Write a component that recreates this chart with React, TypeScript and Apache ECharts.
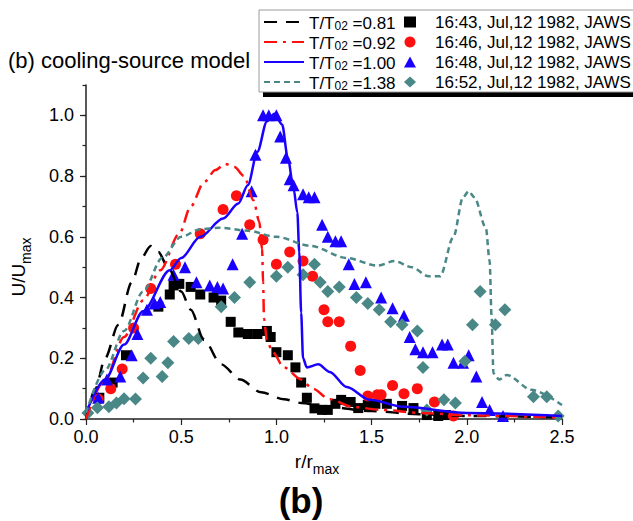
import React, { useEffect, useRef } from "react";
import * as echarts from "echarts";

const FONT = "'Liberation Sans', Arial, sans-serif";

// Model curves (r/rmax, U/Umax)
const lineNames = ["T/T02 =0.81", "T/T02 =0.92", "T/T02 =1.00", "T/T02 =1.38"];
const curve081 = [[0,0],[0.05,0.1],[0.1,0.2],[0.17,0.31],[0.24,0.45],[0.29,0.53],[0.34,0.57],[0.38,0.55],[0.43,0.5],[0.5,0.42],[0.55,0.36],[0.62,0.26],[0.71,0.18],[0.81,0.13],[0.92,0.088],[1.04,0.065],[1.13,0.053],[1.27,0.04],[1.5,0.026],[1.75,0.016],[2.0,0.01],[2.5,0.005]];
const curve092 = [[0,0],[0.1,0.13],[0.2,0.27],[0.3,0.39],[0.39,0.49],[0.49,0.61],[0.55,0.7],[0.62,0.78],[0.68,0.82],[0.73,0.84],[0.78,0.83],[0.83,0.8],[0.88,0.72],[0.91,0.65],[0.925,0.56],[0.93,0.45],[0.935,0.33],[0.95,0.26],[0.98,0.22],[1.04,0.17],[1.13,0.13],[1.19,0.1],[1.28,0.065],[1.4,0.04],[1.55,0.03],[1.76,0.02],[2.0,0.012],[2.5,0.005]];
const curve100 = [[0,0.02],[0.1,0.13],[0.2,0.245],[0.3,0.355],[0.44,0.49],[0.5,0.53],[0.6,0.6],[0.72,0.66],[0.8,0.71],[0.85,0.77],[0.9,0.88],[0.95,0.98],[0.99,1.005],[1.03,0.97],[1.06,0.86],[1.09,0.76],[1.11,0.68],[1.12,0.55],[1.13,0.35],[1.14,0.2],[1.16,0.17],[1.22,0.18],[1.28,0.155],[1.37,0.105],[1.49,0.063],[1.67,0.04],[2.0,0.02],[2.5,0.01]];
const curve138 = [[0,0.02],[0.1,0.16],[0.2,0.29],[0.3,0.42],[0.4,0.53],[0.5,0.6],[0.6,0.625],[0.7,0.63],[0.85,0.62],[1.0,0.6],[1.18,0.57],[1.37,0.53],[1.53,0.505],[1.62,0.52],[1.71,0.5],[1.8,0.47],[1.86,0.47],[1.93,0.6],[1.98,0.73],[2.01,0.75],[2.04,0.73],[2.1,0.63],[2.12,0.52],[2.13,0.34],[2.14,0.15],[2.17,0.13],[2.21,0.145],[2.34,0.096],[2.5,0.046]];

// JAWS observations
const obsNames = ["16:43, Jul,12 1982, JAWS", "16:46, Jul,12 1982, JAWS", "16:48, Jul,12 1982, JAWS", "16:52, Jul,12 1982, JAWS"];
const obs1643 = [[0.07,0.07],[0.14,0.12],[0.21,0.21],[0.38,0.37],[0.44,0.41],[0.46,0.44],[0.49,0.445],[0.55,0.435],[0.6,0.41],[0.67,0.4],[0.71,0.39],[0.76,0.32],[0.8,0.285],[0.85,0.28],[0.9,0.28],[0.95,0.29],[0.97,0.27],[1.0,0.22],[1.06,0.21],[1.1,0.17],[1.13,0.12],[1.16,0.07],[1.2,0.035],[1.24,0.03],[1.27,0.03],[1.31,0.05],[1.34,0.063],[1.39,0.056],[1.43,0.036],[1.48,0.046],[1.52,0.05],[1.58,0.05],[1.66,0.043],[1.72,0.036],[1.79,0.013],[1.85,0.01],[1.89,0.013]];
const obs1646 = [[0.065,0.066],[0.13,0.1],[0.19,0.165],[0.25,0.3],[0.34,0.43],[0.47,0.51],[0.6,0.61],[0.72,0.69],[0.79,0.735],[0.86,0.64],[0.93,0.59],[1.0,0.51],[1.07,0.55],[1.14,0.52],[1.19,0.47],[1.25,0.36],[1.27,0.32],[1.33,0.32],[1.39,0.24],[1.44,0.16],[1.48,0.076],[1.53,0.08],[1.55,0.08],[1.61,0.11],[1.67,0.083],[1.74,0.1],[1.83,0.056],[1.93,0.01]];
const obs1648 = [[0.064,0.07],[0.11,0.13],[0.18,0.14],[0.24,0.21],[0.27,0.28],[0.32,0.36],[0.36,0.38],[0.39,0.385],[0.46,0.475],[0.52,0.5],[0.58,0.45],[0.65,0.44],[0.69,0.435],[0.72,0.43],[0.77,0.51],[0.82,0.61],[0.87,0.75],[0.89,0.87],[0.93,1.0],[0.96,1.0],[1.0,1.0],[1.02,0.93],[1.05,0.86],[1.07,0.79],[1.09,0.77],[1.14,0.74],[1.17,0.73],[1.2,0.73],[1.24,0.64],[1.27,0.6],[1.31,0.585],[1.34,0.585],[1.38,0.51],[1.41,0.445],[1.47,0.45],[1.55,0.4],[1.61,0.365],[1.67,0.34],[1.7,0.27],[1.73,0.23],[1.77,0.22],[1.82,0.22],[1.87,0.245],[1.9,0.245],[1.93,0.185],[1.98,0.185],[2.01,0.21],[2.05,0.14],[2.08,0.056],[2.12,0.03],[2.19,0.01]];
const obs1652 = [[0.01,0.02],[0.06,0.037],[0.12,0.04],[0.16,0.053],[0.2,0.067],[0.26,0.066],[0.3,0.135],[0.34,0.2],[0.4,0.14],[0.43,0.185],[0.46,0.255],[0.54,0.265],[0.59,0.265],[0.71,0.37],[0.78,0.4],[0.86,0.45],[1.0,0.47],[1.06,0.5],[1.14,0.475],[1.2,0.51],[1.23,0.45],[1.27,0.42],[1.33,0.435],[1.42,0.4],[1.48,0.38],[1.54,0.36],[1.6,0.32],[1.66,0.31],[1.74,0.29],[1.77,0.17],[1.79,0.03],[1.88,0.063],[1.94,0.053],[1.99,0.19],[2.03,0.31],[2.07,0.42],[2.15,0.31],[2.2,0.36],[2.35,0.073],[2.42,0.073],[2.48,0.01]];

const yLabelValues = [0, 0.2, 0.4, 0.6, 0.8, 1.0];

const RED = "#ff1010";
const BLUE = "#1a00ff";
const TEAL = "#4a8888";

export default function App() {
  const ref = useRef<HTMLDivElement>(null);
  useEffect(() => {
    const chart = echarts.init(ref.current!, null, { renderer: "svg" });
    const lineSeries = (name: string, data: number[][], color: string, type: any, width: number) => ({
      name, type: "line", data, symbol: "none", smooth: 0.3, smoothMonotone: "x",
      lineStyle: { color, type, width }, itemStyle: { color }, z: 3,
    });
    const scatterSeries = (name: string, data: number[][], color: string, symbol: string, size: number) => ({
      name, type: "scatter", data, symbol, symbolSize: size, itemStyle: { color, opacity: 1 }, z: 2,
    });
    const tickColor = "#222";
    chart.setOption({
      animation: false,
      backgroundColor: "#fff",
      textStyle: { fontFamily: FONT },
      grid: { left: 86, top: 85, width: 476, height: 334, containLabel: false },
      xAxis: {
        type: "value", min: 0, max: 2.5, interval: 0.5,
        axisLine: { lineStyle: { color: tickColor, width: 1.5 } },
        axisTick: { length: 6, lineStyle: { color: tickColor, width: 1.2 } },
        minorTick: { show: true, splitNumber: 2, length: 3.5, lineStyle: { color: tickColor, width: 1.2 } },
        splitLine: { show: false },
        axisLabel: { formatter: (v: number) => v.toFixed(1), fontSize: 18, color: "#000", fontFamily: FONT, margin: 9 },
      },
      yAxis: [
        {
          type: "value", min: 0, max: 1.1, interval: 0.2, position: "left",
          axisLine: { show: true, lineStyle: { color: tickColor, width: 1.5 } },
          axisTick: { show: true, length: 6, customValues: yLabelValues, lineStyle: { color: tickColor, width: 1.2 } },
          splitLine: { show: false },
          axisLabel: {
            customValues: yLabelValues,
            formatter: (v: number) => (v > 1.05 ? "" : v.toFixed(1)),
            fontSize: 18, color: "#000", fontFamily: FONT, margin: 12,
          },
        },
        {
          type: "value", min: 0, max: 1.1, interval: 0.1, position: "left",
          axisLine: { show: false },
          axisTick: { show: true, length: 3.5, lineStyle: { color: tickColor, width: 1.2 } },
          axisLabel: { show: false },
          splitLine: { show: false },
        },
      ],
      legend: [
        {
          data: lineNames, orient: "vertical", left: 263, top: 12, padding: 0, itemGap: 0,
          itemWidth: 40, itemHeight: 14, selectedMode: false,
          itemStyle: { opacity: 0 },
          formatter: (n: string) => "{m|T/T}{s|02}{m|" + n.slice(5) + "}",
          textStyle: {
            fontSize: 17, color: "#000", fontFamily: FONT, lineHeight: 20,
            rich: {
              m: { fontSize: 17, color: "#000", fontFamily: FONT, verticalAlign: "bottom", lineHeight: 20 },
              s: { fontSize: 12, color: "#000", fontFamily: FONT, verticalAlign: "bottom", lineHeight: 16 },
            },
          },
        },
        {
          data: obsNames, orient: "vertical", left: 404, top: 12, padding: 0, itemGap: 0,
          itemWidth: 12, itemHeight: 11, selectedMode: false,
          textStyle: { fontSize: 17, color: "#000", fontFamily: FONT, lineHeight: 20, padding: [0, 0, 0, 14] },
        },
      ],
      graphic: [
        { type: "rect", shape: { x: 263, y: 15, width: 420, height: 82 }, style: { fill: "#000" }, z: 0 },
        { type: "rect", shape: { x: 259, y: 10, width: 420, height: 82 }, style: { fill: "#fff", stroke: "#9a9a9a", lineWidth: 1 }, z: 1 },
        {
          type: "text", x: 8, y: 60, z: 5,
          style: { text: "(b) cooling-source model", fontSize: 22, fontFamily: FONT, fill: "#000", textAlign: "left", textVerticalAlign: "middle", align: "left", verticalAlign: "middle" },
        },
        {
          type: "text", x: 317, y: 464, z: 5,
          style: {
            text: "{m|r/r}{s|max}", fill: "#000", fontFamily: FONT, fontSize: 19,
            textAlign: "center", textVerticalAlign: "middle", align: "center", verticalAlign: "middle",
            rich: {
              m: { fontSize: 19, fontFamily: FONT, fill: "#000", verticalAlign: "bottom", padding: [0, 0, 5, 0] },
              s: { fontSize: 14, fontFamily: FONT, fill: "#000", verticalAlign: "bottom" },
            },
          },
        },
        {
          type: "text", x: 21, y: 267, rotation: Math.PI / 2, z: 5,
          style: {
            text: "{m|U/U}{s|max}", fill: "#000", fontFamily: FONT, fontSize: 19,
            textAlign: "center", textVerticalAlign: "middle", align: "center", verticalAlign: "middle",
            rich: {
              m: { fontSize: 19, fontFamily: FONT, fill: "#000", verticalAlign: "bottom", padding: [0, 0, 5, 0] },
              s: { fontSize: 14, fontFamily: FONT, fill: "#000", verticalAlign: "bottom" },
            },
          },
        },
        {
          type: "text", x: 301, y: 500, z: 5,
          style: { text: "(b)", fontSize: 35, fontWeight: "bold", fontFamily: FONT, fill: "#000", textAlign: "center", textVerticalAlign: "middle", align: "center", verticalAlign: "middle" },
        },
      ],
      series: [
        scatterSeries(obsNames[0], obs1643, "#000", "rect", 10),
        scatterSeries(obsNames[1], obs1646, RED, "circle", 11),
        scatterSeries(obsNames[2], obs1648, BLUE, "triangle", 12),
        scatterSeries(obsNames[3], obs1652, TEAL, "diamond", 13),
        lineSeries(lineNames[0], curve081, "#000", [13, 9], 2.5),
        lineSeries(lineNames[1], curve092, RED, [13, 6, 3, 6], 2.5),
        lineSeries(lineNames[2], curve100, BLUE, "solid", 2.5),
        lineSeries(lineNames[3], curve138, TEAL, [6, 4], 2.5),
      ],
    });
    return () => chart.dispose();
  }, []);
  return <div ref={ref} style={{ position: "fixed", left: 0, top: 0, width: 633, height: 521, background: "#fff" }} />;
}
